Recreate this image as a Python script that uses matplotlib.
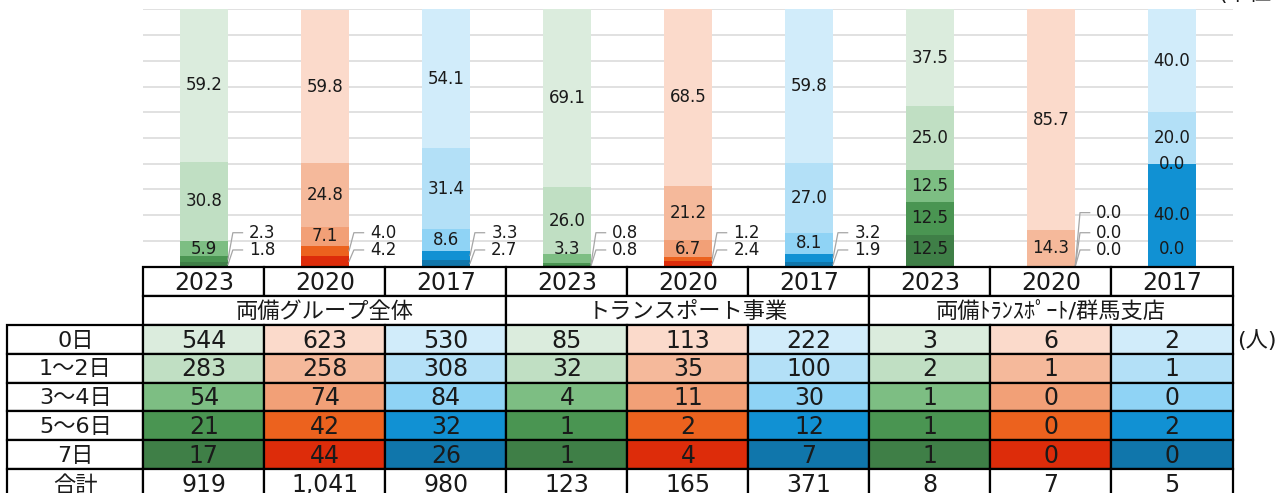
import numpy as np
import matplotlib
matplotlib.use('Agg')
import matplotlib.pyplot as plt
from matplotlib.patches import Rectangle

# DejaVu for digits (Verdana-like), Noto CJK for the Japanese text
plt.rcParams['font.family'] = ['DejaVu Sans', 'Noto Sans CJK JP']

# ================================
# data
# ================================
years = ['2023', '2020', '2017']
groups = ['両備グループ全体', 'トランスポート事業', '両備ﾄﾗﾝｽﾎﾟｰﾄ/群馬支店']
day_labels = ['0日', '1～2日', '3～4日', '5～6日', '7日']
total_label = '合計'
unit_people = '(人)'
unit_pct = '(単位：%)'

# shares (%) per bar: group1 x3 years, group2 x3, group3 x3
pct_0 = [59.2, 59.8, 54.1, 69.1, 68.5, 59.8, 37.5, 85.7, 40.0]
pct_12 = [30.8, 24.8, 31.4, 26.0, 21.2, 27.0, 25.0, 14.3, 20.0]
pct_34 = [5.9, 7.1, 8.6, 3.3, 6.7, 8.1, 12.5, 0.0, 0.0]
pct_56 = [2.3, 4.0, 3.3, 0.8, 1.2, 3.2, 12.5, 0.0, 40.0]
pct_7 = [1.8, 4.2, 2.7, 0.8, 2.4, 1.9, 12.5, 0.0, 0.0]

# head counts for the table
cnt_0 = [544, 623, 530, 85, 113, 222, 3, 6, 2]
cnt_12 = [283, 258, 308, 32, 35, 100, 2, 1, 1]
cnt_34 = [54, 74, 84, 4, 11, 30, 1, 0, 0]
cnt_56 = [21, 42, 32, 1, 2, 12, 1, 0, 2]
cnt_7 = [17, 44, 26, 1, 4, 7, 1, 0, 0]
totals = ['919', '1,041', '980', '123', '165', '371', '8', '7', '5']

# ================================
# styling
# ================================
palette = {
    '2023': ['#dbecdd', '#c0dfc3', '#7dbe83', '#4a9552', '#3f7f47'],
    '2020': ['#fbdacb', '#f5b99b', '#f2a077', '#ec621e', '#dd2c0a'],
    '2017': ['#d1ecfa', '#b3e0f7', '#8fd3f5', '#1191d3', '#1076ab'],
}
# how many bottom segments get their label outside the bar (leader lines)
n_outside = [2, 2, 2, 2, 2, 2, 0, 3, 0]
outside_y = [6.5, 13.2, 21.0]
min_label_y = 6.7
bar_w = 0.4
text_col = '#1a1a1a'

W, H = 1282, 493
fig = plt.figure(figsize=(W / 100, H / 100), dpi=100)

x_left, x_right = 143.3, 1232.5
y_top, y_axis = 9.3, 266.7
ax = fig.add_axes([x_left / W, 1 - y_axis / H, (x_right - x_left) / W, (y_axis - y_top) / H])

series = [pct_0, pct_12, pct_34, pct_56, pct_7]
counts = [cnt_0, cnt_12, cnt_34, cnt_56, cnt_7]
n = len(pct_0)
x = np.arange(n)
bar_year = years * 3

# stack from 7日 (bottom) up to 0日
bottom = np.zeros(n)
seg_mid = {}
for d in [4, 3, 2, 1, 0]:
    vals = np.array(series[d])
    cols = [palette[y][d] for y in bar_year]
    ax.bar(x, vals, bar_w, bottom=bottom, color=cols, zorder=2, linewidth=0)
    seg_mid[d] = bottom + vals / 2
    bottom = bottom + vals

for i in range(n):
    for d in range(5):
        k = 4 - d  # position from the bottom
        txt = f'{series[d][i]:.1f}'
        if k < n_outside[i]:
            ly = outside_y[k]
            x0 = x[i] + bar_w / 2
            ax.plot([x0, x0 + 0.04, x0 + 0.12], [seg_mid[d][i], ly, ly],
                    color='#a6a6a6', lw=0.9, zorder=3, clip_on=False)
            ax.text(x0 + 0.175, ly, txt, ha='left', va='center', fontsize=12,
                    color=text_col, zorder=4)
        else:
            ly = max(seg_mid[d][i], min_label_y)
            ax.text(x[i], ly, txt, ha='center', va='center', fontsize=12,
                    color=text_col, zorder=4)

ax.set_xlim(-0.5, n - 0.5)
ax.set_ylim(0, 100)
ax.set_yticks(np.arange(0, 101, 10))
ax.yaxis.grid(True, color='#d9d9d9', lw=1.1)
ax.set_axisbelow(True)
ax.tick_params(left=False, labelleft=False, bottom=False, labelbottom=False)
for s in ax.spines.values():
    s.set_visible(False)

fig.text(1218 / W, 1 - 4 / H, unit_pct, ha='left', va='bottom', fontsize=16, color=text_col)

# ================================
# table under the chart
# ================================
row_h = 28.95
tax = fig.add_axes([x_left / W, 0, (x_right - x_left) / W, (H - y_axis) / H])
tax.set_xlim(-0.5, n - 0.5)
tax.set_ylim((H - y_axis) / row_h, 0)
tax.axis('off')

col_px = (x_right - x_left) / n
lab_w = (x_left - 7.3) / col_px
fs = 17
edge = dict(edgecolor='black', linewidth=1.6, clip_on=False)


def cell(x0, r, w, fc, txt, size=fs):
    tax.add_patch(Rectangle((x0, r), w, 1, facecolor=fc, **edge))
    tax.text(x0 + w / 2, r + 0.55, txt, ha='center', va='center', fontsize=size,
             color=text_col, clip_on=False)


for i in range(n):
    cell(i - 0.5, 0, 1, 'white', bar_year[i])
for g in range(3):
    cell(3 * g - 0.5, 1, 3, 'white', groups[g], size=16)
for d in range(5):
    cell(-0.5 - lab_w, 2 + d, lab_w, 'white', day_labels[d], size=16)
    for i in range(n):
        cell(i - 0.5, 2 + d, 1, palette[bar_year[i]][d], str(counts[d][i]))
cell(-0.5 - lab_w, 7, lab_w, 'white', total_label, size=16)
for i in range(n):
    cell(i - 0.5, 7, 1, 'white', totals[i])

tax.text(n - 0.5 + 0.04, 2.55, unit_people, ha='left', va='center', fontsize=16,
         color=text_col, clip_on=False)

fig.savefig('out.png', dpi=100)
